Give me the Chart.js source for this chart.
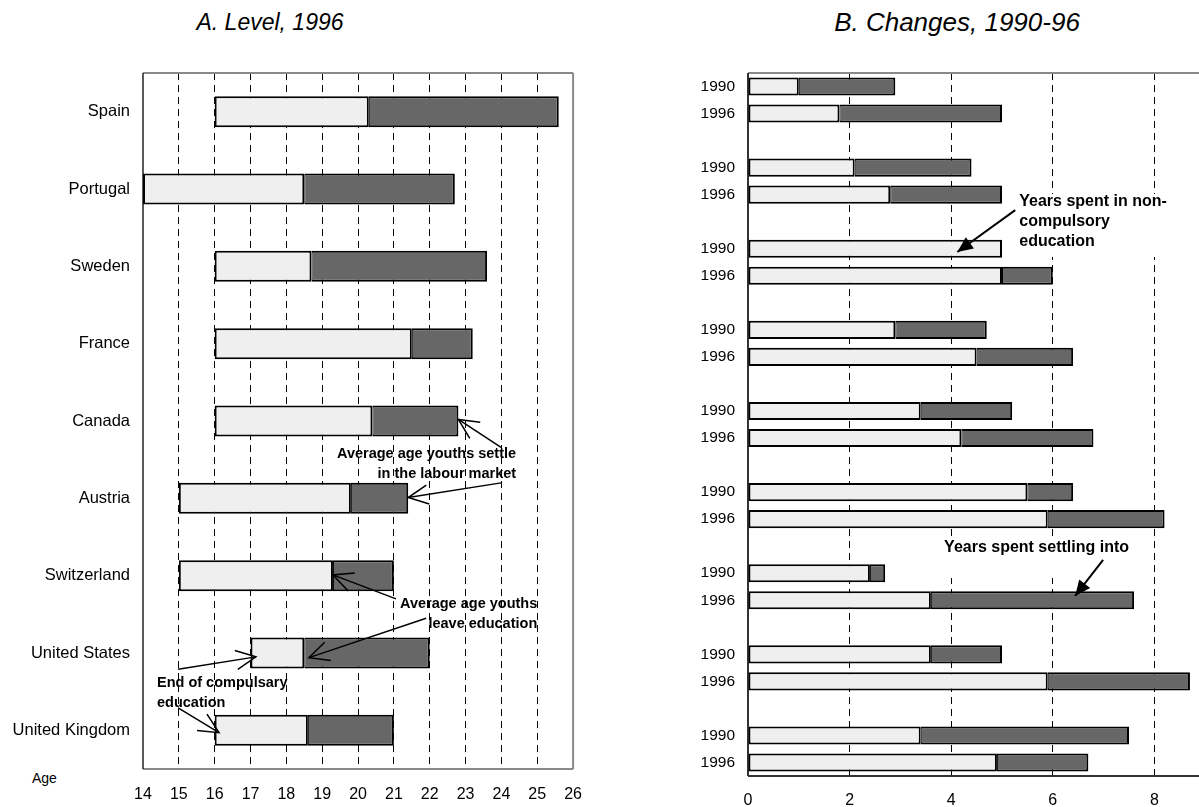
<!DOCTYPE html>
<html>
<head>
<meta charset="utf-8">
<script src="https://cdn.jsdelivr.net/npm/chart.js@4/dist/chart.umd.min.js"></script>
<style>
  body { margin: 0; width: 1199px; height: 807px; overflow: hidden; position: relative; background: #fff; font-family: "Liberation Sans", Arial, sans-serif; }
  .title { position: absolute; font-style: italic; color: #000; transform: translateX(-50%); white-space: nowrap; }
  #ageLabel { position: absolute; left: 32px; top: 770px; font-size: 14px; color: #000; }
  #levelChart { position: absolute; left: 0; top: 0; }
  #changeChart { position: absolute; left: 600px; top: 0; }
</style>
</head>
<body>
<div class="title" style="left:270px; top:9px; font-size:23px">A. Level, 1996</div>
<div class="title" style="left:957px; top:7px; font-size:26px">B. Changes, 1990-96</div>
<div id="ageLabel">Age</div>
<canvas id="levelChart" width="598" height="807"></canvas>
<canvas id="changeChart" width="700" height="807"></canvas>
<script>
// Panel A: ages per country
const countries = ["Spain", "Portugal", "Sweden", "France", "Canada", "Austria", "Switzerland", "United States", "United Kingdom"]
const compulsoryEnd = [16, 14, 16, 16, 16, 15, 15, 17, 16]
const leaveEducation = [20.3, 18.5, 18.7, 21.5, 20.4, 19.8, 19.3, 18.5, 18.6]
const settleAge = [25.6, 22.7, 23.6, 23.2, 22.8, 21.4, 21.0, 22.0, 21.0]

// Panel B: years spent, 1990 vs 1996 (same country order)
const years = ["1990", "1996"]
const eduYears1990 = [1.0, 2.1, 5.0, 2.9, 3.4, 5.5, 2.4, 3.6, 3.4]
const totalYears1990 = [2.9, 4.4, 5.0, 4.7, 5.2, 6.4, 2.7, 5.0, 7.5]
const eduYears1996 = [1.8, 2.8, 5.0, 4.5, 4.2, 5.9, 3.6, 5.9, 4.9]
const totalYears1996 = [5.0, 5.0, 6.0, 6.4, 6.8, 8.2, 7.6, 8.7, 6.7]

const LIGHT = "#efefef"
const DARK = "#676767"
const FONT = '"Liberation Sans", Arial, sans-serif'

// Draw a frame around the plot
function framePlugin(sides) {
  return {
    id: "frame",
    beforeDatasetsDraw(chart) {
      const { ctx, chartArea: a } = chart
      ctx.save()
      sides.forEach(s => {
        ctx.strokeStyle = s.color
        ctx.lineWidth = s.width
        ctx.beginPath()
        if (s.side === "top") { ctx.moveTo(a.left, a.top); ctx.lineTo(a.right, a.top) }
        if (s.side === "bottom") { ctx.moveTo(a.left, a.bottom); ctx.lineTo(a.right, a.bottom) }
        if (s.side === "left") { ctx.moveTo(a.left, a.top); ctx.lineTo(a.left, a.bottom) }
        if (s.side === "right") { ctx.moveTo(a.right, a.top); ctx.lineTo(a.right, a.bottom) }
        ctx.stroke()
      })
      ctx.restore()
    }
  }
}

function drawArrow(ctx, x1, y1, x2, y2, kind) {
  const a = Math.atan2(y2 - y1, x2 - x1)
  ctx.beginPath()
  ctx.moveTo(x1, y1)
  ctx.lineTo(x2, y2)
  ctx.stroke()
  if (kind === "open") {
    const len = 22, sp = 0.45
    ctx.beginPath()
    ctx.moveTo(x2 - len * Math.cos(a - sp), y2 - len * Math.sin(a - sp))
    ctx.lineTo(x2, y2)
    ctx.lineTo(x2 - len * Math.cos(a + sp), y2 - len * Math.sin(a + sp))
    ctx.stroke()
  } else {
    const len = 17, sp = 0.42
    ctx.beginPath()
    ctx.moveTo(x2, y2)
    ctx.lineTo(x2 - len * Math.cos(a - sp), y2 - len * Math.sin(a - sp))
    ctx.lineTo(x2 - len * Math.cos(a + sp), y2 - len * Math.sin(a + sp))
    ctx.closePath()
    ctx.fill()
  }
}

// Text notes with arrows, placed in data units (value, category index)
function notesPlugin(notes, arrowKind, arrowWidth, fontSize) {
  return {
    id: "notes",
    afterDatasetsDraw(chart) {
      const { ctx, scales: { x, y } } = chart
      ctx.save()
      ctx.font = "bold " + fontSize + "px " + FONT
      ctx.textBaseline = "middle"
      notes.forEach(n => {
        const px = x.getPixelForValue(n.at[0])
        const py = y.getPixelForValue(n.at[1])
        if (n.box) {
          const w = Math.max(...n.lines.map(l => ctx.measureText(l).width))
          const left = n.align === "right" ? px - w : px
          ctx.fillStyle = "#fff"
          ctx.fillRect(left - 4, py - n.box[0], w + 8, (n.lines.length - 1) * 20 + n.box[0] + n.box[1])
        }
        ctx.fillStyle = "#000"
        ctx.textAlign = n.align
        n.lines.forEach((l, i) => ctx.fillText(l, px, py + i * 20))
      })
      ctx.strokeStyle = "#000"
      ctx.fillStyle = "#000"
      ctx.lineWidth = arrowWidth
      notes.forEach(n => {
        (n.arrows || []).forEach(ar => {
          drawArrow(ctx,
            x.getPixelForValue(ar[0]), y.getPixelForValue(ar[1]),
            x.getPixelForValue(ar[2]), y.getPixelForValue(ar[3]), arrowKind)
        })
      })
      ctx.restore()
    }
  }
}

const tickFont = { family: FONT, size: 16 }
// dark bar keeps a thin left edge so the joint with the light bar stays narrow
const lightBorder = { top: 2, bottom: 2, left: 2, right: 2 }
const darkBorder = { top: 2, bottom: 2, left: 1, right: 2 }

// ---- Panel A ----
const levelNotes = [
  { lines: ["Average age youths settle", "in the labour market"], at: [24.41, 4.43], align: "right",
    arrows: [[23.99, 4.34, 22.8, 3.98], [23.99, 4.8, 21.4, 4.99]] },
  { lines: ["Average age youths", "leave education"], at: [25.0, 6.37], align: "right",
    arrows: [[21.06, 6.3, 19.3, 5.99], [21.9, 6.55, 18.63, 7.06]] },
  { lines: ["End of compulsary", "education"], at: [14.39, 7.39], align: "left",
    arrows: [[14.98, 7.21, 17.15, 7.05], [14.98, 7.71, 16.12, 8.03]] }
]

new Chart(document.getElementById("levelChart"), {
  type: "bar",
  data: {
    labels: countries,
    datasets: [
      {
        label: "Non-compulsory education",
        data: countries.map((c, i) => [compulsoryEnd[i], leaveEducation[i]]),
        backgroundColor: LIGHT,
        borderWidth: lightBorder
      },
      {
        label: "Settling into the labour market",
        data: countries.map((c, i) => [leaveEducation[i], settleAge[i]]),
        backgroundColor: DARK,
        borderWidth: darkBorder
      }
    ]
  },
  options: {
    indexAxis: "y",
    responsive: false,
    animation: false,
    layout: { padding: { top: 73, right: 0, bottom: 0, left: 0 } },
    datasets: {
      bar: { borderColor: "#000", borderSkipped: false, categoryPercentage: 1, barPercentage: 0.4 }
    },
    plugins: { legend: { display: false }, tooltip: { enabled: false } },
    scales: {
      x: {
        min: 14, max: 26,
        afterFit(scale) { scale.height = 38 },
        ticks: { stepSize: 1, color: "#000", font: tickFont, padding: 16 },
        grid: {
          drawTicks: false,
          color: c => (c.tick && (c.tick.value === 14 || c.tick.value === 26)) ? "rgba(0,0,0,0)" : "#000",
          lineWidth: 1
        },
        border: { display: false, dash: [7, 5] }
      },
      y: {
        stacked: true,
        afterFit(scale) { scale.width = 143 },
        ticks: { color: "#000", font: { family: FONT, size: 16.5 }, padding: 13 },
        grid: { display: false, drawTicks: false },
        border: { display: false }
      }
    }
  },
  plugins: [
    framePlugin([
      { side: "top", color: "#8a8a8a", width: 2 },
      { side: "right", color: "#8a8a8a", width: 2 },
      { side: "bottom", color: "#8a8a8a", width: 2 },
      { side: "left", color: "#222", width: 1.5 }
    ]),
    notesPlugin(levelNotes, "open", 1.5, 14.5)
  ]
})

// ---- Panel B ----
// two rows per country, blank row between groups
const changeLabels = []
const eduBars = []
const settleBars = []
countries.forEach((c, i) => {
  changeLabels.push(years[0], years[1])
  eduBars.push([0, eduYears1990[i]], [0, eduYears1996[i]])
  settleBars.push(
    totalYears1990[i] > eduYears1990[i] ? [eduYears1990[i], totalYears1990[i]] : null,
    totalYears1996[i] > eduYears1996[i] ? [eduYears1996[i], totalYears1996[i]] : null
  )
  if (i < countries.length - 1) {
    changeLabels.push("")
    eduBars.push(null)
    settleBars.push(null)
  }
})

const changeNotes = [
  { lines: ["Years spent in non-", "compulsory", "education"], at: [5.34, 4.27], align: "left", box: [8, 15],
    arrows: [[5.26, 4.57, 4.12, 6.12]] },
  { lines: ["Years spent settling into"], at: [3.86, 17.07], align: "left", box: [11, 30],
    arrows: [[6.99, 17.51, 6.44, 18.84]] }
]

new Chart(document.getElementById("changeChart"), {
  type: "bar",
  data: {
    labels: changeLabels,
    datasets: [
      { label: "Years in non-compulsory education", data: eduBars, backgroundColor: LIGHT, borderWidth: lightBorder },
      { label: "Years settling into the labour market", data: settleBars, backgroundColor: DARK, borderWidth: darkBorder }
    ]
  },
  options: {
    indexAxis: "y",
    responsive: false,
    animation: false,
    layout: { padding: { top: 73, right: 44, bottom: 0, left: 0 } },
    datasets: {
      bar: { borderColor: "#000", borderSkipped: false, categoryPercentage: 1, barPercentage: 0.67 }
    },
    plugins: { legend: { display: false }, tooltip: { enabled: false } },
    scales: {
      x: {
        min: 0, max: 10,
        afterFit(scale) { scale.height = 31 },
        ticks: { stepSize: 2, color: "#000", font: tickFont, padding: 15 },
        grid: {
          drawTicks: false,
          color: c => (c.tick && (c.tick.value === 0 || c.tick.value === 10)) ? "rgba(0,0,0,0)" : "#000",
          lineWidth: 1
        },
        border: { display: false, dash: [7, 5] }
      },
      y: {
        stacked: true,
        afterFit(scale) { scale.width = 148 },
        ticks: { color: "#000", font: { family: FONT, size: 15.5 }, padding: 13, autoSkip: false },
        grid: { display: false, drawTicks: false },
        border: { display: false }
      }
    }
  },
  plugins: [
    framePlugin([
      { side: "top", color: "#8a8a8a", width: 2 },
      { side: "left", color: "#333", width: 2 },
      { side: "bottom", color: "#333", width: 2 }
    ]),
    notesPlugin(changeNotes, "filled", 2, 16)
  ]
})
</script>
</body>
</html>
